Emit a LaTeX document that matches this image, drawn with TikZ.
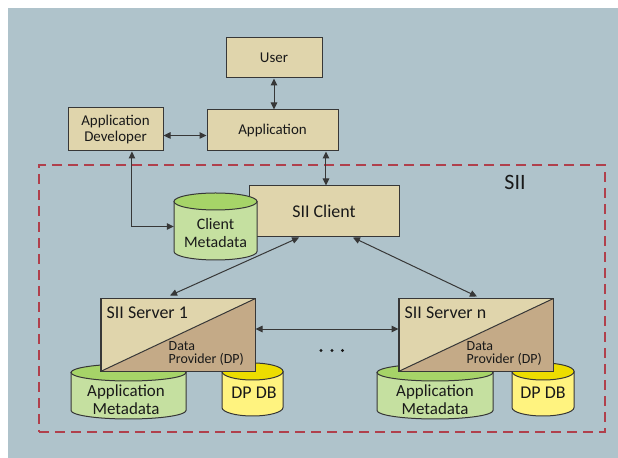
\documentclass[tikz,border=0pt]{standalone}
\usepackage{fontspec}
\setmainfont{Carlito}
\usetikzlibrary{arrows.meta,calc}

\definecolor{bgblue}{RGB}{175,195,203}
\definecolor{boxtan}{RGB}{224,213,172}
\definecolor{tandark}{RGB}{196,170,135}
\definecolor{edge}{RGB}{55,55,55}
\definecolor{greenbody}{RGB}{197,224,160}
\definecolor{greentop}{RGB}{166,212,104}
\definecolor{yellowbody}{RGB}{255,243,127}
\definecolor{yellowtop}{RGB}{237,221,0}
\definecolor{frame}{RGB}{176,64,76}
\definecolor{ink}{RGB}{25,25,25}

% drum: centre x, top y, bottom y, half width, body colour, lid colour
\newcommand\drumshape[6]{%
  \path[draw=edge, line width=1bp, fill=#5]
    (#1-#4, #2-8.5) -- (#1-#4, #3+8.5)
    arc[start angle=180, end angle=360, x radius=#4, y radius=8.5]
    -- (#1+#4, #2-8.5) -- cycle;
  \path[draw=edge, line width=1bp, fill=#6]
    (#1, #2-8.5) ellipse[x radius=#4, y radius=8.5];
}

\tikzset{
  box/.style={draw=edge, line width=1bp, fill=boxtan, inner sep=0pt,
    text=ink, align=center, font=\fontsize{15}{17}\selectfont},
  link/.style={draw=edge, line width=1bp,
    {Triangle[length=7bp,width=6.5bp]}-{Triangle[length=7bp,width=6.5bp]}},
  label/.style={inner sep=0pt, text=ink, align=center},
}

\begin{document}
\begin{tikzpicture}[x=1bp, y=1bp]
\useasboundingbox (0,0) rectangle (618,458);
\fill[bgblue] (8,0) rectangle (618,450);

% SII boundary
\node[draw=frame, line width=1.3bp, dash pattern=on 10bp off 6bp,
      minimum width=566bp, minimum height=267bp, inner sep=0pt]
      (sii) at (322,159.5) {};
\node[label, font=\fontsize{22}{24}\selectfont] (siilabel) at (515,276) {SII};

% top boxes
\node[box, minimum width=96bp, minimum height=40bp] (user) at (274,400) {User};
\node[box, minimum width=131bp, minimum height=41bp] (app) at (272.5,327.5) {Application};
\node[box, minimum width=95bp, minimum height=43bp] (dev) at (115.5,328.5)
  {Application\\Developer};

% SII client and its metadata store
\node[box, minimum width=150bp, minimum height=51bp,
      font=\fontsize{18}{18}\selectfont] (client) at (324,246.5) {SII Client};
\drumshape{215.5}{265}{198}{41.5}{greenbody}{greentop}
\node[inner sep=0pt, minimum width=83bp, minimum height=67bp] (cmeta) at (215.5,231.5) {};
\node[label, font=\fontsize{16}{19}\selectfont] (cmetatext) at (215.5,225)
  {Client\\Metadata};

% server 1 stores
\drumshape{128.5}{94}{39}{57.5}{greenbody}{greentop}
\node[label, font=\fontsize{17}{17.5}\selectfont] (ameta1) at (126,58.5)
  {Application\\Metadata};
\drumshape{252.5}{95}{42}{30.5}{yellowbody}{yellowtop}
\node[label, font=\fontsize{18}{20}\selectfont] (dpdb1) at (254,65) {DP DB};

% server n stores
\drumshape{435}{94}{39}{58}{greenbody}{greentop}
\node[label, font=\fontsize{17}{17.5}\selectfont] (ametan) at (435,58.5)
  {Application\\Metadata};
\drumshape{543}{95}{42}{31}{yellowbody}{yellowtop}
\node[label, font=\fontsize{18}{20}\selectfont] (dpdbn) at (543,65) {DP DB};

% servers, split into SII part and data provider part
\foreach \nm/\cx/\ttl in {srv1/178/SII Server 1, srvn/476/SII Server n}{
  \node[box, minimum width=154bp, minimum height=72bp] (\nm) at (\cx,123) {};
  \fill[tandark] (\nm.south west) -- (\nm.south east) -- (\nm.north east) -- cycle;
  \draw[edge, line width=1bp] (\nm.south west) -- (\nm.north east);
  \draw[edge, line width=1bp] (\nm.south west) rectangle (\nm.north east);
  \node[label, anchor=base west, font=\fontsize{18}{18}\selectfont]
    (\nm title) at ($(\nm.north west)+(6,-20.5)$) {\ttl};
  \node[label, anchor=west, align=left, font=\fontsize{14}{12.5}\selectfont]
    (\nm dp) at ($(\nm.north west)+(68,-55)$) {Data\\Provider (DP)};
}

% ellipsis between the servers
\foreach \dx in {321,332,342.5}
  \fill[ink] (\dx,107.5) circle[radius=1.6];

% connectors
\draw[link] (user.south) -- (user.south |- app.north);
\draw[link] ([yshift=-6]dev.east) -- ([yshift=-6]dev.east -| app.west);
\draw[link] ([xshift=2]app.south -| client.north) -- ([xshift=2]client.north);
\draw[link] ([xshift=16.5]dev.south) |- (cmeta.west);
\draw[link] ([xshift=-25]client.south) -- ([xshift=-8,yshift=3]srv1.north);
\draw[link] ([xshift=29]client.south) -- ([xshift=1,yshift=2]srvn.north);
\draw[link] ([yshift=6]srv1.east) -- ([yshift=6]srvn.west);
\end{tikzpicture}
\end{document}
